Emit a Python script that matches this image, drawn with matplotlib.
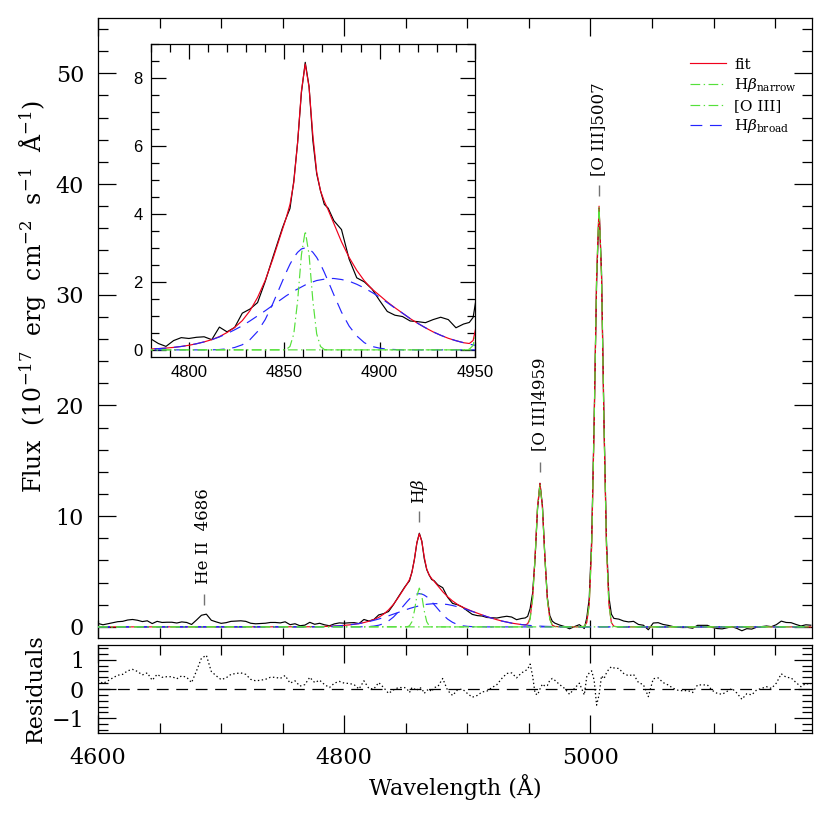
import numpy as np
import pandas as pd
import matplotlib
matplotlib.use('Agg')
import matplotlib.pyplot as plt
from matplotlib.ticker import MultipleLocator

plt.rcParams['font.family'] = ['DejaVu Serif']
plt.rcParams['mathtext.fontset'] = 'dejavuserif'
plt.rcParams['lines.scale_dashes'] = False

# wavelength sampling (A): coarse in the continuum, finer across the lines
wl = np.concatenate([np.arange(4600, 4849, 4), np.arange(4849, 4874, 2),
                     np.arange(4876, 4945, 4), np.arange(4947, 4972, 2),
                     np.arange(4975, 4992, 4), np.arange(4995, 5020, 2),
                     np.arange(5023, 5180, 4)])

# residuals (data - fit)
resid = [0.31, 0.19, 0.28, 0.38, 0.47, 0.50, 0.62, 0.67, 0.60, 0.48,
         0.55, 0.30, 0.50, 0.40, 0.42, 0.42, 0.35, 0.45, 0.40, 0.22,
         0.62, 1.05, 1.15, 0.60, 0.45, 0.32, 0.38, 0.50, 0.53, 0.55,
         0.50, 0.33, 0.28, 0.30, 0.33, 0.40, 0.40, 0.36, 0.46, 0.20,
         0.28, 0.10, 0.15, 0.40, 0.22, 0.30, 0.15, 0.05, 0.20, 0.26,
         0.20, 0.19, 0.15, 0.00, 0.28, 0.02, 0.00, 0.22, 0.05, -0.15,
         -0.03, 0.05, 0.05,
         0.05, 0.00, -0.12, 0.05, 0.00, -0.05, 0.05, 0.02, -0.15, -0.05, 0.00, -0.09, 0.05,
         0.08, 0.36, -0.05, -0.22, -0.03, 0.00, -0.15, -0.28, -0.22, -0.10,
         -0.07, 0.05, 0.15, 0.36, 0.53, 0.55, 0.38, 0.55,
         0.62, 0.68, 0.85, 0.45, -0.15, -0.20, 0.00, 0.17, 0.10, 0.12, 0.30, 0.36, 0.30,
         0.15, 0.02, -0.18, 0.02, 0.20,
         -0.20, 0.42, 0.55, 0.62, 0.30, -0.55, -0.20, 0.45, 0.35, 0.55, 0.68, 0.76, 0.72,
         0.70, 0.53, 0.45, 0.50, 0.22, 0.15, -0.26, 0.35, 0.38, 0.22,
         0.14, 0.03, -0.04, -0.06, -0.05, -0.12, 0.14, 0.14, 0.14, -0.05,
         -0.15, -0.18, -0.08, 0.02, -0.14, -0.35, -0.16, -0.20, -0.03, 0.02,
         0.08, 0.02, 0.20, 0.52, 0.40, 0.38, 0.22, 0.08, 0.19, 0.15]

# fit components, each given over the stretch of the grid where it is non-zero
hb_broad2 = [0.003, 0.005, 0.008, 0.012, 0.017, 0.026, 0.037, 0.052, 0.073, 0.10,
             0.135, 0.18, 0.235, 0.30, 0.38, 0.48, 0.59, 0.71, 0.85, 1.00, 1.15, 1.31, 1.47,
             1.51, 1.59, 1.66, 1.73, 1.79, 1.85, 1.91, 1.96, 2.00, 2.04, 2.06, 2.08, 2.10,
             2.10, 2.07, 2.02, 1.93, 1.82, 1.69, 1.55, 1.39, 1.23, 1.08, 0.92, 0.78,
             0.65, 0.53, 0.43, 0.34, 0.27, 0.21,
             0.167, 0.145, 0.125, 0.108, 0.092, 0.079, 0.067, 0.057, 0.048, 0.040, 0.034, 0.028, 0.023,
             0.016, 0.011, 0.007, 0.005, 0.003]          # 4760-4991
hb_broad1 = [0.00, 0.00, 0.01, 0.03, 0.07, 0.15, 0.30, 0.54, 0.89, 1.36, 1.89,
             2.02, 2.28, 2.52, 2.72, 2.87, 2.97, 3.00, 2.97, 2.87, 2.72, 2.52, 2.28, 2.02,
             1.62, 1.11, 0.70, 0.41, 0.21, 0.10, 0.05, 0.02, 0.01, 0.00, 0.00]  # 4808-4916
hb_narrow = [0.00, 0.01, 0.10, 0.47, 1.44, 2.80, 3.50, 2.80, 1.44, 0.47, 0.10, 0.01, 0.00]  # 4849-4873
oiii = [0.02, 0.13, 0.68, 2.48, 6.19, 10.73, 12.90, 10.73, 6.19, 2.48, 0.68, 0.13, 0.02,
        0.0, 0.0, 0.0, 0.0, 0.0,
        0.05, 0.39, 2.01, 7.30, 18.24, 31.62, 38.00, 31.62, 18.24, 7.30, 2.01, 0.39, 0.05]  # 4947-5019

line_wl = [4686, 4861, 4959, 5007]
line_names = ['He II  4686', r'H$\beta$', '[O III]4959', '[O III]5007']
mark_lo = [1.95, 9.45, 14.0, 38.9]
mark_hi = [2.95, 10.5, 14.9, 39.9]
text_y = [3.9, 11.1, 15.9, 40.7]


def on_grid(values, lo, hi):
    s = pd.Series(values, index=wl[(wl >= lo) & (wl <= hi)])
    return s.reindex(wl, fill_value=0.0).to_numpy()


comp = pd.DataFrame({'broad2': on_grid(hb_broad2, 4760, 4991),
                     'broad1': on_grid(hb_broad1, 4808, 4916),
                     'narrow': on_grid(hb_narrow, 4849, 4873),
                     'oiii': on_grid(oiii, 4947, 5019)}, index=wl)
fit = comp.sum(axis=1).to_numpy()
flux = fit + np.array(resid)

RED, GREEN, BLUE = '#f0001c', '#55e03a', '#2424ff'
dash = (0, (8.5, 5.5))
dashdot = (0, (7, 2.5, 1, 2.5))

fig = plt.figure(figsize=(8.35, 8.13), dpi=100)
ax = fig.add_axes([0.1174, 0.2153, 0.8551, 0.7626])
axr = fig.add_axes([0.1174, 0.0984, 0.8551, 0.1082])
axi = fig.add_axes([0.1805, 0.5613, 0.3884, 0.3846])


def draw(a, lw):
    a.plot(wl, flux, color='k', lw=lw, zorder=2)
    h_fit, = a.plot(wl, fit, color=RED, lw=lw, zorder=3)
    h_b, = a.plot(wl, comp['broad1'], color=BLUE, lw=lw, ls=dash, zorder=4)
    a.plot(wl, comp['broad2'], color=BLUE, lw=lw, ls=dash, zorder=4)
    h_n, = a.plot(wl, comp['narrow'], color=GREEN, lw=lw, ls=dashdot, zorder=5)
    h_o, = a.plot(wl, comp['oiii'], color=GREEN, lw=lw, ls=dashdot, zorder=5)
    return h_fit, h_n, h_o, h_b


handles = draw(ax, 0.85)
draw(axi, 0.85)

ax.set_xlim(4600, 5180)
ax.set_ylim(-1, 55)
ax.xaxis.set_major_locator(MultipleLocator(200))
ax.xaxis.set_minor_locator(MultipleLocator(50))
ax.yaxis.set_major_locator(MultipleLocator(10))
ax.yaxis.set_minor_locator(MultipleLocator(2))
ax.tick_params(labelbottom=False)
ax.set_ylabel('Flux  (10$^{-17}$  erg  cm$^{-2}$  s$^{-1}$  Å$^{-1}$)', fontsize=17)
ax.yaxis.set_label_coords(-0.068, 0.55)

for x, name, lo, hi, ty in zip(line_wl, line_names, mark_lo, mark_hi, text_y):
    ax.vlines(x, lo, hi, color='0.45', lw=1.0)
    ax.text(x, ty, name, rotation=90, ha='center', va='bottom', fontsize=12)

ax.legend(handles=handles,
          labels=['fit', r'H$\beta_{\rm narrow}$', '[O III]', r'H$\beta_{\rm broad}$'],
          loc='upper left', bbox_to_anchor=(0.826, 0.929), bbox_transform=fig.transFigure,
          frameon=False, fontsize=11, handlelength=2.4, handletextpad=0.5,
          labelspacing=0.3, borderpad=0, borderaxespad=0)

axr.plot(wl, resid, color='k', lw=0.9, ls=(0, (1, 1.8)))
axr.axhline(0, color='k', lw=0.9, ls=dash)
axr.set_xlim(4600, 5180)
axr.set_ylim(-1.5, 1.5)
axr.xaxis.set_major_locator(MultipleLocator(200))
axr.xaxis.set_minor_locator(MultipleLocator(50))
axr.yaxis.set_major_locator(MultipleLocator(1))
axr.yaxis.set_minor_locator(MultipleLocator(0.2))
axr.set_xlabel('Wavelength (Å)', fontsize=16, labelpad=4)
axr.set_ylabel('Residuals', fontsize=16)
axr.yaxis.set_label_coords(-0.072, 0.5)

for a in (ax, axr):
    a.tick_params(which='both', direction='in', top=True, right=True, width=0.9,
                  labelsize=16, pad=10)
    a.tick_params(which='major', length=13)
    a.tick_params(which='minor', length=7)
    for s in a.spines.values():
        s.set_linewidth(0.9)

axi.set_facecolor('white')
axi.set_xlim(4780, 4950)
axi.set_ylim(-0.2, 9)
axi.xaxis.set_major_locator(MultipleLocator(50))
axi.xaxis.set_minor_locator(MultipleLocator(10))
axi.yaxis.set_major_locator(MultipleLocator(2))
axi.yaxis.set_minor_locator(MultipleLocator(0.5))
axi.tick_params(which='both', direction='in', top=True, right=True, width=0.9,
                labelsize=12, pad=6)
axi.tick_params(which='major', length=11)
axi.tick_params(which='minor', length=6)
for lab in axi.get_xticklabels() + axi.get_yticklabels():
    lab.set_family('Liberation Sans')
for s in axi.spines.values():
    s.set_linewidth(0.9)

fig.savefig('out.png', dpi=100)
